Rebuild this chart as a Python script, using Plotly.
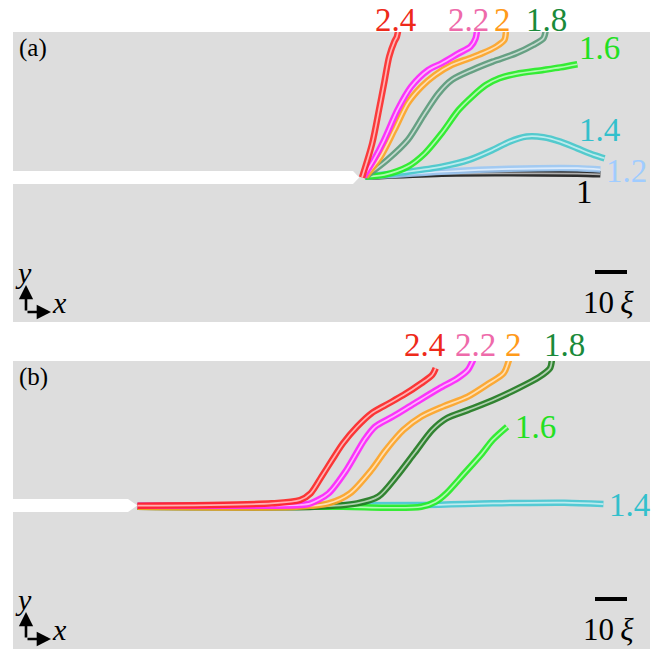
import plotly.graph_objects as go

# ---------------- data: crack paths, units of xi, origin at the notch tip ----------------
# panel (a)
A_10_X = [1.1, 24.9, 46.1, 67.3, 74.5]
A_10_Y = [0.26, 1.2, 1.3, 1.2, 1.0]
A_12_X = [1.1, 24.9, 46.1, 67.3, 74.5]
A_12_Y = [0.26, 1.8, 2.7, 2.9, 2.5]
A_14_X = [1.1, 14.3, 24.9, 33.4, 40.8, 46.1, 51.4, 56.7, 62.0, 67.3, 72.6, 75.8]
A_14_Y = [0.26, 1.8, 3.4, 5.5, 8.6, 11.2, 12.8, 12.6, 11.2, 9.1, 7.0, 6.0]
A_16_X = [1.1, 6.9, 14.3, 19.6, 24.9, 30.2, 34.4, 38.7, 42.9, 48.2, 56.7, 62.0, 67.3]
A_16_Y = [0.26, 0.8, 3.4, 7.5, 13.8, 21.1, 25.3, 28.9, 31.0, 32.4, 33.6, 34.4, 35.4]
A_18_X = [1.1, 7.9, 14.3, 19.6, 23.9, 28.1, 34.4, 40.8, 48.2, 53.5, 56.7, 57.5]
A_18_Y = [0.26, 5.5, 11.7, 20.0, 26.3, 30.5, 33.6, 36.2, 38.8, 41.4, 43.5, 46.5]
A_20_X = [1.1, 5.8, 10.1, 14.3, 18.6, 22.8, 28.1, 33.4, 37.6, 41.9, 44.5, 45.0]
A_20_Y = [0.26, 6.5, 14.8, 23.2, 28.4, 32.0, 35.2, 37.2, 38.8, 40.9, 43.0, 46.5]
A_22_X = [0.5, 3.7, 6.9, 11.1, 15.4, 20.7, 24.9, 30.2, 33.9, 35.5, 36.0]
A_22_Y = [0.26, 5.5, 11.7, 21.1, 28.4, 33.6, 35.7, 38.8, 40.9, 43.5, 46.5]
A_24_X = [0.0, 3.2, 5.3, 6.9, 8.5, 10.1, 10.9, 11.4]
A_24_Y = [0.0, 10.7, 21.1, 29.4, 37.8, 42.4, 44.0, 46.5]

# panel (b)
B_14_X = [0.0, 88.7, 111.0, 133.4, 145.6]
B_14_Y = [-0.06, 0.15, 0.67, 0.88, 0.46]
B_16_X = [0.0, 64.2, 77.6, 88.7, 93.2, 96.5, 102.1, 107.7, 111.0, 115.5]
B_16_Y = [-0.4, -0.4, -0.7, -0.4, 1.2, 3.8, 10.0, 16.3, 20.5, 24.6]
B_18_X = [0.0, 55.2, 68.6, 75.3, 80.9, 86.5, 92.1, 96.5, 103.2, 111.0, 118.9, 125.6, 128.9, 129.5]
B_18_Y = [-0.4, -0.4, 0.67, 2.8, 9.0, 16.3, 23.6, 27.2, 29.8, 32.9, 36.6, 40.2, 42.9, 45.5]
B_20_X = [0.0, 49.7, 59.7, 66.4, 73.1, 77.6, 83.1, 88.7, 95.4, 103.2, 109.9, 114.4, 116.1]
B_20_Y = [-0.4, -0.4, 0.67, 3.8, 11.1, 17.3, 23.6, 27.8, 30.9, 34.0, 38.2, 41.3, 45.5]
B_22_X = [0.0, 41.9, 50.8, 54.1, 59.7, 65.3, 70.9, 74.2, 79.8, 86.5, 94.3, 99.9, 103.2, 104.9]
B_22_Y = [-0.06, -0.06, 0.15, 0.67, 3.8, 11.1, 20.5, 24.6, 27.8, 31.9, 36.6, 39.7, 42.3, 45.5]
B_24_X = [0.0, 41.9, 50.8, 54.1, 57.5, 60.8, 64.2, 68.6, 73.1, 77.6, 83.1, 88.7, 92.1, 93.2]
B_24_Y = [-0.06, 0.67, 1.7, 3.8, 9.0, 14.2, 19.4, 24.6, 28.8, 31.4, 34.5, 38.2, 40.8, 42.9]

# curve labels
A_LABELS = ["1", "1.2", "1.4", "1.6", "1.8", "2", "2.2", "2.4"]
A_LABEL_X = [69.4, 82.5, 74.1, 74.1, 57.8, 43.8, 33.4, 10.6]
A_LABEL_Y = [-4.4, 2.0, 14.8, 40.5, 49.2, 49.2, 49.2, 49.2]
B_LABELS = ["1.4", "1.6", "1.8", "2", "2.2", "2.4"]
B_LABEL_X = [153.6, 124.5, 133.5, 117.5, 105.5, 89.8]
B_LABEL_Y = [0.2, 24.5, 50.2, 50.2, 50.2, 50.2]

SCALE_BAR_XI = 10

# ---------------- styling ----------------
A_LINE_COLORS = ["#1a1a1a", "#9cc8f5", "#45c8cc", "#22ee22", "#5a9a7a", "#ffa424", "#ff22ff", "#ff2a2a"]
A_LABEL_COLORS = ["#000000", "#a0ccff", "#33c0cc", "#22e022", "#1a8a3a", "#ff9a1a", "#ee6aaa", "#ee2a1a"]
B_LINE_COLORS = ["#45c8d4", "#22ee22", "#1f7a1f", "#ffa424", "#ff22ff", "#ff2424"]
B_LABEL_COLORS = ["#33c0cc", "#22e022", "#1a8a3a", "#ff9a1a", "#ee6aaa", "#ee2a1a"]

SERIF = "Liberation Serif, Times New Roman, serif"
GRAY = "#dddddd"
W, H = 655, 651
PX = 3.2  # pixels per xi
LEFT, RIGHT = 13, 650
A_TOP, A_BOT = 32, 322
B_TOP, B_BOT = 361, 649
TIP_A = (362, 177.5)
TIP_B = (137.5, 505.5)


def blend(c, f):
    r, g, b = int(c[1:3], 16), int(c[3:5], 16), int(c[5:7], 16)
    r = int(r + (255 - r) * f)
    g = int(g + (255 - g) * f)
    b = int(b + (255 - b) * f)
    return "#%02x%02x%02x" % (r, g, b)


def d(tip, px, py):
    return (px - tip[0]) / PX, (tip[1] - py) / PX


fig = go.Figure()


def add_path(x, y, color, xa, ya):
    fig.add_trace(go.Scatter(x=x, y=y, mode="lines", xaxis=xa, yaxis=ya, opacity=0.9,
                             line=dict(color=color, width=6.5, shape="spline", smoothing=0.8),
                             hoverinfo="skip", showlegend=False))
    fig.add_trace(go.Scatter(x=x, y=y, mode="lines", xaxis=xa, yaxis=ya,
                             line=dict(color=blend(color, 0.65), width=1.7, shape="spline", smoothing=0.8),
                             hoverinfo="skip", showlegend=False))


def add_notch(tip, xa, ya, flat_end_px, tip_px):
    x0, _ = d(tip, LEFT - 10, 0)
    xf, _ = d(tip, flat_end_px, 0)
    xt, _ = d(tip, tip_px, 0)
    hh = 6.5 / PX
    fig.add_trace(go.Scatter(x=[x0, xf, xt, xt, xf, x0, x0], y=[hh, hh, 0.3 / PX, -0.3 / PX, -hh, -hh, hh],
                             mode="lines", fill="toself", fillcolor="white", line=dict(width=0, color="white"),
                             xaxis=xa, yaxis=ya, hoverinfo="skip", showlegend=False))


def axis_range(tip, top, bot):
    x0, y1 = d(tip, LEFT, top)
    x1, y0 = d(tip, RIGHT, bot)
    return [x0, x1], [y0, y1]


xra, yra = axis_range(TIP_A, A_TOP, A_BOT)
xrb, yrb = axis_range(TIP_B, B_TOP, B_BOT)

# notches
add_notch(TIP_A, "x", "y", 353, 359)
add_notch(TIP_B, "x2", "y2", 128, 137)

A_SERIES = [(A_10_X, A_10_Y), (A_12_X, A_12_Y), (A_14_X, A_14_Y), (A_16_X, A_16_Y),
            (A_18_X, A_18_Y), (A_20_X, A_20_Y), (A_22_X, A_22_Y), (A_24_X, A_24_Y)]
for (x, y), c in zip(A_SERIES, A_LINE_COLORS):
    add_path(x, y, c, "x", "y")

B_SERIES = [(B_14_X, B_14_Y), (B_16_X, B_16_Y), (B_18_X, B_18_Y), (B_20_X, B_20_Y),
            (B_22_X, B_22_Y), (B_24_X, B_24_Y)]
for (x, y), c in zip(B_SERIES, B_LINE_COLORS):
    add_path(x, y, c, "x2", "y2")

annotations = []

# curve labels as annotations (x in data units, y in axis-domain units so they may sit above the panel)
for labels, lx, ly, cols, xa, yr in [(A_LABELS, A_LABEL_X, A_LABEL_Y, A_LABEL_COLORS, "x", yra),
                                     (B_LABELS, B_LABEL_X, B_LABEL_Y, B_LABEL_COLORS, "x2", yrb)]:
    ya_dom = "y domain" if xa == "x" else "y2 domain"
    for t, x, y, c in zip(labels, lx, ly, cols):
        annotations.append(dict(x=x, y=(y - yr[0]) / (yr[1] - yr[0]), xref=xa, yref=ya_dom, text=t,
                                showarrow=False, xanchor="center", yanchor="middle",
                                font=dict(family=SERIF, size=33, color=c)))

for tip, xa, ya, top, bot, name in [(TIP_A, "x", "y", A_TOP, A_BOT, "(a)"),
                                     (TIP_B, "x2", "y2", B_TOP, B_BOT, "(b)")]:
    # panel tag
    tx, ty = d(tip, 33, top + 16)
    annotations.append(dict(x=tx, y=ty, xref=xa, yref=ya, text=name, showarrow=False,
                            font=dict(family=SERIF, size=25, color="black")))
    # axis icon
    cx, cy = d(tip, 26, bot - 10)
    ux, uy = d(tip, 26, bot - 37)
    rx, ry = d(tip, 51, bot - 10)
    for hx, hy in [(ux, uy), (rx, ry)]:
        annotations.append(dict(x=hx, y=hy, ax=cx, ay=cy, xref=xa, yref=ya, axref=xa, ayref=ya,
                                showarrow=True, arrowhead=2, arrowsize=1.1, arrowwidth=2.6,
                                arrowcolor="black", text=""))
    yx, yy = d(tip, 23, bot - 50)
    xx, xy = d(tip, 59, bot - 20)
    for t, px_, py_ in [("<i>y</i>", yx, yy), ("<i>x</i>", xx, xy)]:
        annotations.append(dict(x=px_, y=py_, xref=xa, yref=ya, text=t, showarrow=False,
                                font=dict(family=SERIF, size=30, color="black")))
    # scale bar
    bx1, by = d(tip, 627, bot - 50)
    bx0 = bx1 - SCALE_BAR_XI
    fig.add_trace(go.Scatter(x=[bx0, bx1], y=[by, by], mode="lines", line=dict(color="black", width=4),
                             xaxis=xa, yaxis=ya, hoverinfo="skip", showlegend=False))
    sx, sy = d(tip, 608, bot - 20)
    annotations.append(dict(x=sx, y=sy, xref=xa, yref=ya, text="10<i>\u2009\u03be</i>", showarrow=False,
                            font=dict(family=SERIF, size=31, color="black")))

common = dict(visible=False, showgrid=False, zeroline=False, fixedrange=True)

fig.update_layout(
    width=W, height=H, margin=dict(l=0, r=0, t=0, b=0),
    paper_bgcolor="white", plot_bgcolor=GRAY, showlegend=False,
    xaxis=dict(domain=[LEFT / W, RIGHT / W], range=xra, **common),
    yaxis=dict(domain=[(H - A_BOT) / H, (H - A_TOP) / H], range=yra, **common),
    xaxis2=dict(domain=[LEFT / W, RIGHT / W], range=xrb, anchor="y2", **common),
    yaxis2=dict(domain=[(H - B_BOT) / H, (H - B_TOP) / H], range=yrb, anchor="x2", **common),
    annotations=annotations,
)

fig.write_html("out.html")
